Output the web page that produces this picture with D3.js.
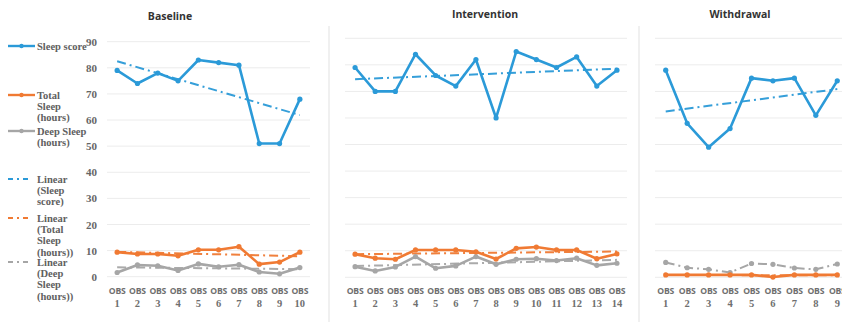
<!DOCTYPE html>
<html>
<head>
<meta charset="utf-8">
<script src="https://cdn.jsdelivr.net/npm/d3@7"></script>
<style>
  html, body { margin: 0; padding: 0; background: #fff; }
  svg { display: block; }
</style>
</head>
<body>
<svg id="chart" width="842" height="324"></svg>
<script>
// Phase data: one array per series, per phase
const yTicks = [0, 10, 20, 30, 40, 50, 60, 70, 80, 90];

const baselineObs = ["1", "2", "3", "4", "5", "6", "7", "8", "9", "10"];
const baselineScore = [79, 74, 78, 75, 83, 82, 81, 51, 51, 68];
const baselineTotal = [9.4, 8.7, 8.7, 8.0, 10.3, 10.3, 11.5, 4.8, 5.6, 9.4];
const baselineDeep = [1.6, 4.5, 4.2, 2.4, 4.9, 3.8, 4.6, 1.8, 1.1, 3.5];

const interventionObs = ["1", "2", "3", "4", "5", "6", "7", "8", "9", "10", "11", "12", "13", "14"];
const interventionScore = [79, 70, 70, 84, 76, 72, 82, 60, 85, 82, 79, 83, 72, 78];
const interventionTotal = [8.7, 7.2, 6.8, 10.3, 10.3, 10.3, 9.6, 6.9, 10.9, 11.4, 10.3, 10.3, 7.0, 8.8];
const interventionDeep = [4.0, 2.4, 3.9, 7.8, 3.4, 4.3, 7.8, 4.9, 6.8, 7.0, 6.3, 7.2, 4.5, 5.3];

const withdrawalObs = ["1", "2", "3", "4", "5", "6", "7", "8", "9"];
const withdrawalScore = [78, 58, 49, 56, 75, 74, 75, 61, 74];
const withdrawalTotal = [0.9, 0.9, 0.9, 0.9, 0.9, 0.1, 0.9, 0.9, 0.9];
const withdrawalDeep = [5.6, 3.6, 3.0, 1.8, 5.2, 4.9, 3.5, 3.0, 5.0];

const phaseTitles = ["Baseline", "Intervention", "Withdrawal"];

const seriesNames = ["Sleep score", "Total Sleep (hours)", "Deep Sleep (hours)"];
const seriesColors = ["#2b9ad8", "#f07a33", "#a6a6a6"];

const svg = d3.select("#chart");
const serif = "'Liberation Serif', 'DejaVu Serif', serif";
const sans = "'Open Sans', 'Noto Sans', sans-serif";

// Least-squares trend over observation index 1..n
function trend(values) {
  const n = values.length;
  const xs = d3.range(1, n + 1);
  const mx = d3.mean(xs), my = d3.mean(values);
  const sxy = d3.sum(xs, (x, i) => (x - mx) * (values[i] - my));
  const sxx = d3.sum(xs, x => (x - mx) * (x - mx));
  const b = sxy / sxx, a = my - b * mx;
  return [a + b * 1, a + b * n];
}

const phases = [
  { title: phaseTitles[0], obs: baselineObs, series: [baselineScore, baselineTotal, baselineDeep],
    x0: 107, x1: 310, yTop: 41.7, yBot: 276.7, titleX: 170, titleY: 20, deepDashed: false, deepTrend: true },
  { title: phaseTitles[1], obs: interventionObs, series: [interventionScore, interventionTotal, interventionDeep],
    x0: 345, x1: 627, yTop: 38.3, yBot: 277.3, titleX: 485, titleY: 18, deepDashed: false, deepTrend: true },
  { title: phaseTitles[2], obs: withdrawalObs, series: [withdrawalScore, withdrawalTotal, withdrawalDeep],
    x0: 655, x1: 848, yTop: 38.3, yBot: 277.3, titleX: 740, titleY: 18, deepDashed: true, deepTrend: false }
];

// Panel separators
[329, 639].forEach(x => {
  svg.append("line").attr("x1", x).attr("x2", x).attr("y1", 26).attr("y2", 322)
    .attr("stroke", "#e6e6e6").attr("stroke-width", 1.2);
});

phases.forEach((p, pi) => {
  const g = svg.append("g");
  const x = d3.scalePoint().domain(p.obs).range([p.x0, p.x1]).padding(0.5);
  const y = d3.scaleLinear().domain([0, 90]).range([p.yBot, p.yTop]);

  // Gridlines
  g.append("g").selectAll("line").data(yTicks).join("line")
    .attr("x1", p.x0).attr("x2", p.x1)
    .attr("y1", d => y(d)).attr("y2", d => y(d))
    .attr("stroke", "#ececec").attr("stroke-width", 1);

  // Y axis labels on the first panel only
  if (pi === 0) {
    const ax = d3.axisLeft(y).tickValues(yTicks).tickSize(0).tickPadding(0);
    const ag = g.append("g").attr("transform", `translate(97,0)`).call(ax);
    ag.select(".domain").remove();
    ag.selectAll("text").attr("font-family", serif).attr("font-weight", "bold")
      .attr("font-size", 11).attr("fill", "#666");
  }

  // X axis labels: "OBS" over the observation number
  const xa = g.append("g").selectAll("g").data(p.obs).join("g")
    .attr("transform", d => `translate(${x(d)},0)`);
  xa.append("text").text("OBS").attr("y", 294).attr("text-anchor", "middle")
    .attr("font-family", sans).attr("font-weight", "bold").attr("font-size", 8.6)
    .attr("letter-spacing", -0.2).attr("fill", "#6f6f6f");
  xa.append("text").text(d => d).attr("y", 307).attr("text-anchor", "middle")
    .attr("font-family", serif).attr("font-weight", "bold").attr("font-size", 10.5)
    .attr("fill", "#6f6f6f");

  // Trend lines
  p.series.forEach((vals, si) => {
    if (si === 2 && !p.deepTrend) return;
    const [t0, t1] = trend(vals);
    g.append("line")
      .attr("x1", x(p.obs[0])).attr("x2", x(p.obs[p.obs.length - 1]))
      .attr("y1", y(t0)).attr("y2", y(t1))
      .attr("stroke", seriesColors[si]).attr("stroke-width", 2)
      .attr("stroke-dasharray", "9,4,2,4").attr("opacity", 0.95);
  });

  // Data series, drawn deep sleep first so the score sits on top
  [2, 1, 0].forEach(si => {
    const vals = p.series[si];
    const line = d3.line().x((d, i) => x(p.obs[i])).y(d => y(d));
    const path = g.append("path").datum(vals).attr("d", line)
      .attr("fill", "none").attr("stroke", seriesColors[si])
      .attr("stroke-width", si === 2 && p.deepDashed ? 2 : 2.6)
      .attr("stroke-linejoin", "round");
    if (si === 2 && p.deepDashed) path.attr("stroke-dasharray", "9,4,2,4");
    g.append("g").selectAll("circle").data(vals).join("circle")
      .attr("cx", (d, i) => x(p.obs[i])).attr("cy", d => y(d))
      .attr("r", 2.6).attr("fill", seriesColors[si]);
  });

  // Panel title
  svg.append("text").text(p.title).attr("x", p.titleX).attr("y", p.titleY)
    .attr("text-anchor", "middle").attr("font-family", sans).attr("font-weight", "bold")
    .attr("font-size", 10.5).attr("fill", "#333");
});

// Legend
const legendItems = [
  { lines: ["Sleep score"], color: seriesColors[0], dashed: false, y: 46 },
  { lines: ["Total", "Sleep", "(hours)"], color: seriesColors[1], dashed: false, y: 95 },
  { lines: ["Deep Sleep", "(hours)"], color: seriesColors[2], dashed: false, y: 131 },
  { lines: ["Linear", "(Sleep", "score)"], color: seriesColors[0], dashed: true, y: 179 },
  { lines: ["Linear", "(Total", "Sleep", "(hours))"], color: seriesColors[1], dashed: true, y: 218 },
  { lines: ["Linear", "(Deep", "Sleep", "(hours))"], color: seriesColors[2], dashed: true, y: 262 }
];
const lg = svg.append("g");
legendItems.forEach(item => {
  const li = lg.append("g");
  if (item.dashed) {
    li.append("line").attr("x1", 8).attr("x2", 32).attr("y1", item.y).attr("y2", item.y)
      .attr("stroke", item.color).attr("stroke-width", 2).attr("stroke-dasharray", "5,4,2,4");
  } else {
    li.append("line").attr("x1", 8).attr("x2", 35).attr("y1", item.y).attr("y2", item.y)
      .attr("stroke", item.color).attr("stroke-width", 2.4);
    li.append("circle").attr("cx", 21.5).attr("cy", item.y).attr("r", 2.2).attr("fill", item.color);
  }
  const t = li.append("text").attr("x", 37).attr("y", item.y + 4)
    .attr("font-family", serif).attr("font-weight", "bold").attr("font-size", 10.5)
    .attr("fill", "#606060");
  item.lines.forEach((s, i) => {
    t.append("tspan").attr("x", 37).attr("dy", i === 0 ? 0 : 11.2).text(s);
  });
});
</script>
</body>
</html>
